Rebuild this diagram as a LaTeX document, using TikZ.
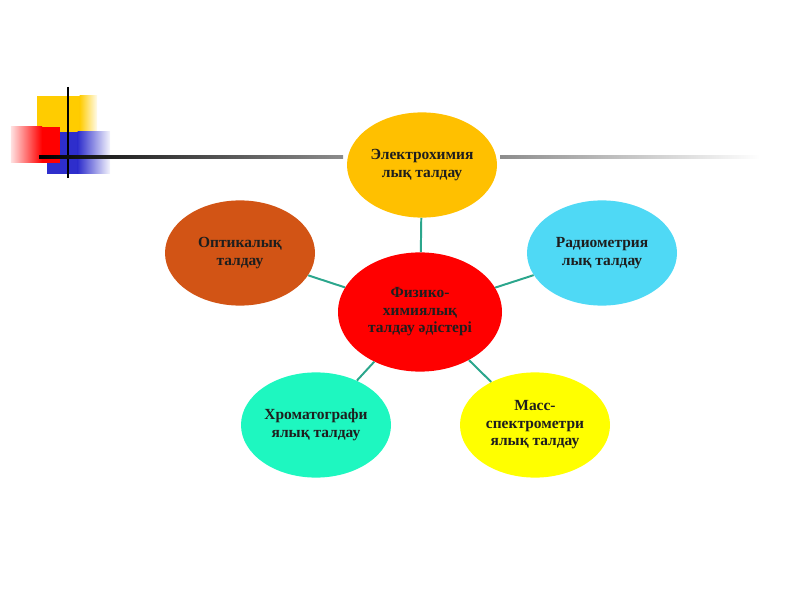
\documentclass[tikz,border=0pt]{standalone}
\usepackage{fontspec}
\setmainfont{Liberation Serif}
\usepackage{xcolor}
\usepackage{tikz}
\usetikzlibrary{calc, positioning, shapes.geometric}
\definecolor{Amber}{HTML}{FFC000}
\definecolor{Rust}{HTML}{D25415}
\definecolor{BrightRed}{HTML}{FF0000}
\definecolor{SkyCyan}{HTML}{4FD9F5}
\definecolor{Aqua}{HTML}{1EF7C0}
\definecolor{Lemon}{HTML}{FFFF00}
\definecolor{LinkTeal}{HTML}{2BA68C}
\definecolor{InkGray}{HTML}{1E1E1E}
\definecolor{DecoYellow}{HTML}{FFCC00}
\definecolor{DecoBlue}{HTML}{2E2ECC}

\begin{document}
\begin{tikzpicture}[
        blob/.style={ellipse, inner sep=0pt, minimum width=3.75cm, minimum height=2.63cm,
                     align=center, text=InkGray, font=\fontsize{11}{12.5}\selectfont\bfseries},
        link/.style={draw=LinkTeal, line width=1.4pt}]

        \useasboundingbox (0,0) rectangle (20,15);

        % corner ornament
        \fill[DecoYellow] (0.925,11.0) rectangle (2.0,12.6);
        \shade[left color=DecoYellow, right color=DecoYellow!8] (1.99,11.0) rectangle (2.425,12.6);
        \fill[DecoBlue] (1.175,10.65) rectangle (1.95,11.7);
        \shade[left color=DecoBlue, right color=DecoBlue!5] (1.94,10.65) rectangle (2.75,11.7);
        \shade[left color=BrightRed!12, right color=BrightRed] (0.275,10.925) rectangle (1.05,11.825);
        \fill[BrightRed] (1.04,10.925) rectangle (1.5,11.825);
        \draw[black, line width=1.8pt] (1.7,12.825) -- (1.7,10.55);
        \shade[left color=black, right color=black!45] (0.975,11.04) rectangle (8.575,11.11);
        \shade[left color=black!45, right color=white] (12.5,11.045) rectangle (19.0,11.105);

        \node[blob, fill=BrightRed, minimum width=4.1cm, minimum height=2.98cm] (core) at (10.5,7.2)
             {Физико-\\химиялық\\талдау әдістері};
        \node[blob, fill=Amber]  (electro) at (10.55,10.875) {Электрохимия\\лық талдау};
        \node[blob, fill=Rust]   (optic)   at (6.0,8.675)    {Оптикалық\\талдау};
        \node[blob, fill=SkyCyan] (radio)  at (15.05,8.675)  {Радиометрия\\лық талдау};
        \node[blob, fill=Aqua]   (chroma)  at (7.9,4.375)    {Хроматографи\\ялық талдау};
        \node[blob, fill=Lemon]  (mass)    at (13.375,4.375) {Масс-\\спектрометри\\ялық талдау};

        \draw[link] (core) -- (electro);
        \draw[link] (core) -- (optic);
        \draw[link] (core) -- (radio);
        \draw[link] (core) -- (chroma);
        \draw[link] (core) -- (mass);
      \end{tikzpicture}
\end{document}
